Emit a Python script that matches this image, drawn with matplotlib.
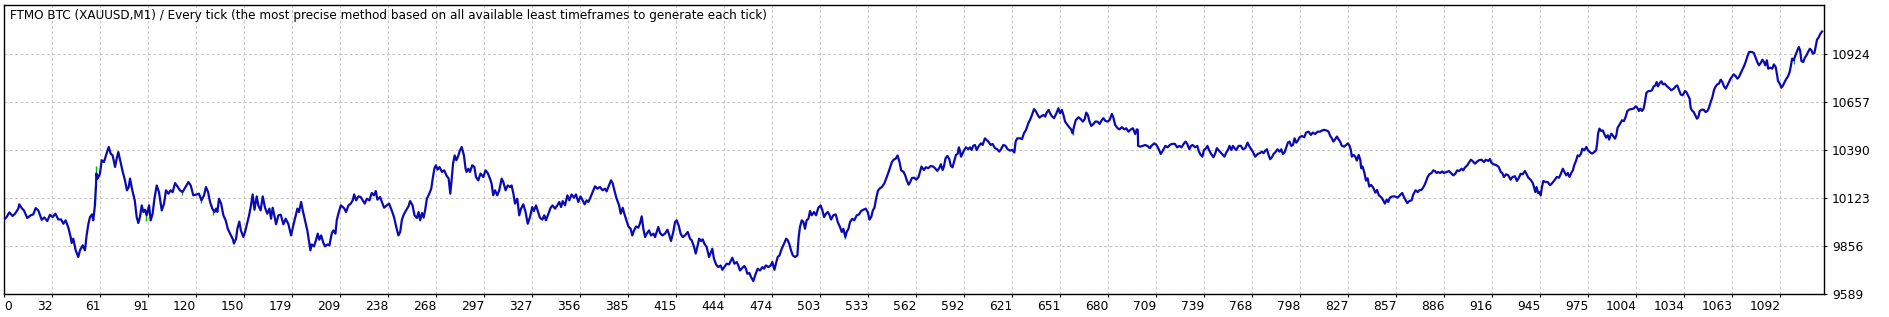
import matplotlib
matplotlib.use("Agg")
import matplotlib.pyplot as plt

TITLE = ("FTMO BTC (XAUUSD,M1) / Every tick (the most precise method based on "
         "all available least timeframes to generate each tick)")

# balance curve: trade number -> balance
TRADES = [
    0, 1.4, 3.1, 5.1, 6.6, 8.6, 9.2, 10.7, 12.1, 14.1, 16.2, 17.8, 19.3, 20.9, 23.0, 24.6, 26.4, 28.1,
    29.7, 31.4, 33.2, 34.9, 36.3, 37.7, 39.4, 40.8, 41.4, 42.4, 43.9, 45.5, 46.5, 48.2, 49.6, 50.6,
    51.7, 52.7, 53.9, 54.7, 55.6, 56.4, 56.6, 57.4, 58.8, 59.9, 61.3, 62.5, 64.2, 65.4, 66.6, 68.1,
    69.1, 70.1, 71.2, 72.6, 74.2, 75.4, 76.5, 77.3, 78.7, 80.2, 81.4, 82.4, 83.4, 84.5, 85.5, 86.5,
    87.5, 89.0, 90.0, 91.2, 92.3, 93.7, 95.1, 96.8, 98.2, 99.4, 100.9, 102.3, 103.5, 105.0, 106.4,
    108.0, 109.5, 111.1, 113.2, 114.6, 116.2, 118.3, 119.7, 121.2, 122.8, 124.0, 125.3, 126.5, 127.9,
    129.2, 130.2, 131.0, 132.0, 133.3, 134.7, 136.1, 137.4,
    138.8, 140.4, 141.2, 142.5, 143.3, 144.5, 145.5, 147.0, 148.0, 149.0, 150.5, 151.5, 152.7, 153.8,
    155.2, 156.2, 157.6, 158.9, 160.3, 161.7, 163.0, 164.0, 165.0, 165.9, 167.1, 168.5, 170.0, 171.6,
    173.0, 174.7, 176.3, 177.7, 179.2, 180.2, 181.2, 182.5, 183.5, 184.9, 186.3, 187.4, 188.2, 189.0,
    190.4, 191.7, 192.7, 193.7, 194.8, 196.2, 197.2, 198.7, 199.9, 201.3, 202.3, 203.6, 204.4, 205.4,
    206.9, 208.1, 209.1, 210.1, 211.6, 213.0, 214.2, 215.1, 216.3, 217.7, 219.1, 220.4, 221.6, 222.9,
    224.5, 225.9, 227.3, 228.4, 229.4, 231.0, 232.5, 233.5, 235.1, 236.6, 238.2, 239.6, 240.9, 242.3,
    243.4, 244.4, 245.4, 246.8, 248.5, 249.5, 251.0, 252.2, 253.7, 254.7, 255.7, 256.8, 257.8, 258.8,
    259.8, 261.3, 262.5, 263.3, 264.4, 265.4, 266.4, 267.6, 269.1, 270.5, 271.8, 273.2, 274.2, 275.0,
    275.9, 276.9, 277.9, 279.0, 280.0,
    281.2, 282.6, 283.6, 284.2, 285.3, 286.3, 287.7, 289.0, 290.0, 291.4, 292.8, 294.5, 295.9, 297.2,
    298.6, 299.6, 300.6, 301.7, 303.1, 304.3, 305.8, 306.8, 308.2, 309.5, 310.9, 311.9, 313.0, 314.0,
    315.4, 316.6, 317.7, 319.1, 320.5, 321.8, 323.2, 324.6, 325.6, 326.9, 327.9, 329.3, 330.8, 332.0,
    333.0, 334.5, 335.9, 337.1, 338.6, 340.0, 341.2, 342.3, 343.3, 344.7, 346.2, 347.4, 348.8, 350.2,
    351.5, 352.9, 354.3, 355.6, 356.8, 358.0, 359.1, 360.5, 361.7, 363.2, 364.6, 366.2, 367.9, 369.3,
    370.3, 371.8, 373.0, 374.0, 375.1, 376.5, 378.0, 379.0, 380.2, 381.2, 382.2, 383.7, 385.1, 386.1,
    387.2, 388.4, 389.8, 390.9, 391.9, 392.9, 394.0, 395.0, 396.4, 397.6, 399.1, 400.1, 401.1, 402.1,
    403.2, 404.6, 406.2, 407.7, 408.9, 409.9, 411.3, 412.4, 413.4, 414.6, 415.8, 417.1, 418.5, 420.2,
    421.6,
    422.6, 424.0, 425.1, 426.1, 427.2, 428.4, 429.4, 430.4, 431.8, 433.3, 434.5, 435.3, 436.3, 437.6,
    439.0, 440.4, 441.5, 442.7, 444.1, 445.6, 446.6, 447.6, 448.9, 450.3, 451.3, 452.3, 453.8, 455.0,
    456.0, 456.8, 458.1, 459.1, 460.5, 462.0, 463.2, 464.6, 466.1, 467.1, 468.3, 469.8, 471.2, 472.2,
    473.5, 474.5, 475.5, 476.6, 478.0, 479.4, 480.7, 481.7, 482.7, 483.7, 484.8, 486.2, 487.6, 488.4,
    489.2, 490.3, 491.3, 492.3, 493.3, 494.4, 495.4, 496.4, 497.8, 499.1, 500.5, 501.9, 503.0, 504.0,
    505.2, 506.3, 507.3, 508.3, 509.7, 511.2, 512.4, 513.8, 514.9, 515.9, 517.1, 517.9, 519.0, 520.0,
    521.4, 522.6, 524.1, 525.5, 526.8, 528.2, 529.6, 530.9, 531.9, 533.0, 534.0, 535.0, 536.0, 537.1,
    538.1, 539.5, 541.0, 542.2, 543.7, 544.7, 545.7, 546.8, 548.1, 549.2, 550.4, 551.4, 552.9, 553.9,
    554.9, 556.0, 557.0, 558.0, 559.5, 560.7, 562.1,
    563.9, 565.4, 566.6, 568.1, 569.5, 571.1, 572.2, 573.6, 574.8, 575.8, 576.9, 577.7, 578.7, 579.9,
    581.0, 582.0, 583.0, 584.1, 585.1, 586.1, 586.9, 587.5, 588.2, 589.2, 590.2, 591.2, 592.7, 593.7,
    594.7, 595.7, 596.8, 597.8, 599.2, 600.5, 601.5, 602.9, 603.9, 605.0, 606.4, 607.6, 609.1, 610.5,
    611.7, 612.8, 614.2, 615.6, 616.9, 618.3, 619.7, 621.0, 621.8, 622.8, 624.5, 625.7, 626.9, 628.2,
    629.6, 630.6, 631.6, 633.1, 634.3, 635.4, 636.4, 637.8, 638.9, 639.9, 640.9, 642.1, 643.0, 644.0,
    645.4, 646.7, 648.1, 649.1, 650.2, 651.2, 652.2, 653.7, 654.9, 655.9, 656.8, 657.8, 658.8, 660.5,
    661.9, 663.1, 664.2, 665.2, 666.2, 667.2, 668.3, 669.7, 670.7, 672.1, 673.4, 674.8, 675.8, 676.9,
    678.3, 679.6, 681.0, 682.0, 683.0, 684.5, 685.7, 687.1, 688.6, 689.8, 691.2, 692.7, 693.9, 695.3,
    696.3, 696.9, 697.1, 698.3, 700.0, 701.4, 702.8,
    704.3, 705.3, 707.0, 708.4, 709.8, 711.0, 712.5, 713.9, 715.2, 716.6, 718.0, 719.7, 721.1, 722.4,
    723.8, 725.3, 726.3, 727.3, 728.6, 729.6, 730.6, 732.1, 733.5, 734.5, 735.6, 736.6, 737.6, 738.9,
    739.7, 740.7, 742.0, 743.4, 744.4, 745.5, 746.5, 747.9, 749.2, 750.2, 751.3, 752.3, 753.3, 754.4,
    755.4, 756.4, 757.4, 758.9, 760.3, 761.5, 763.0, 764.4, 765.6, 766.6, 767.6, 769.1, 770.6, 771.8,
    773.2, 774.2, 775.3, 776.3, 777.3, 778.3, 779.4, 780.4, 781.8, 782.8, 784.1, 785.1, 786.1, 787.1,
    788.2, 789.2, 790.2, 791.2, 792.3, 793.3, 794.3, 795.3, 796.4, 797.8, 799.2, 800.4, 801.9, 803.3,
    804.5, 806.0, 807.4, 809.0, 810.0, 811.5, 813.1, 814.2, 815.2, 816.2, 817.2, 818.3, 819.3, 820.3,
    821.3, 822.4, 823.8, 825.0, 826.1, 827.1, 827.9, 828.5, 829.6, 830.6, 831.6, 832.7, 833.7, 834.3,
    835.1, 836.2, 837.2, 838.2, 839.2, 840.3, 841.5, 843.0, 844.0, 845.0,
    846.8, 847.8, 848.8, 849.9, 850.9, 851.9, 853.3, 855.0, 856.4, 857.4, 858.5, 859.5, 860.5, 861.7,
    862.6, 863.8, 865.2, 866.3, 867.7, 869.0, 870.0, 871.4, 872.8, 874.0, 875.1, 876.1, 877.5, 878.6,
    879.6, 880.6, 881.6, 882.7, 884.1, 885.1, 886.8, 888.2, 889.4, 890.9, 892.1, 893.3, 894.5, 896.0,
    897.0, 898.0, 899.5, 900.7, 901.7, 902.7, 904.2, 905.2, 906.6, 908.3, 909.7, 910.9, 912.4, 913.4,
    914.4, 915.9, 917.5, 918.9, 920.0, 921.0, 922.0, 923.3, 924.7, 926.1, 927.3, 928.8, 930.0, 931.2,
    932.3, 933.5, 934.9, 936.0, 937.0, 938.4, 939.7, 940.5, 941.3, 942.1, 943.0, 943.8, 944.6, 945.4,
    946.2, 947.7, 948.9, 950.4, 951.8, 953.0, 954.5, 955.9, 957.0, 958.2, 959.2, 960.3, 961.3, 962.3,
    963.4, 964.4, 965.2, 966.3, 967.3, 968.3, 969.4, 970.2, 971.4, 972.7, 973.7, 974.7, 976.2, 977.6,
    978.7, 979.3, 979.9, 980.7, 981.8, 982.8, 983.8, 984.9, 985.9, 986.7,
    988.0, 989.0, 990.3, 991.1, 991.9, 993.2, 994.6, 995.8, 996.8, 997.9, 998.9, 1000.3, 1001.8,
    1003.0, 1004.0, 1005.0, 1005.9, 1006.9, 1007.9, 1008.7, 1009.6, 1010.8, 1012.0, 1013.0, 1014.1,
    1015.1, 1015.9, 1016.7, 1017.8, 1018.8, 1019.8, 1020.8, 1022.3, 1023.5, 1024.9, 1026.4, 1027.6,
    1028.6, 1029.7, 1030.7, 1031.7, 1032.5, 1033.3, 1034.2, 1035.2, 1036.2, 1036.8, 1037.6, 1038.7,
    1039.7, 1040.7, 1041.5, 1042.4, 1043.6, 1044.8, 1046.0, 1047.1, 1048.1, 1049.1, 1050.1, 1051.2,
    1052.2, 1053.2, 1054.2, 1055.3, 1056.3, 1057.3, 1058.4, 1059.4, 1060.4, 1061.4, 1062.4, 1063.3,
    1064.5, 1065.5, 1066.5, 1067.6, 1068.6, 1069.6, 1070.6, 1071.7, 1072.7, 1073.7, 1074.7, 1075.7,
    1076.8, 1077.8, 1078.8, 1079.9, 1080.9, 1081.9, 1082.7, 1083.7, 1084.5, 1085.8, 1087.0, 1088.0,
    1089.1, 1089.9, 1090.5, 1091.6, 1092.6, 1093.6, 1094.6, 1095.7, 1096.7, 1097.7, 1098.3, 1099.2,
    1100.2, 1101.2, 1102.3, 1103.3, 1104.1, 1104.9, 1106.0, 1107.0, 1108.0, 1109.0, 1110.1, 1111.1,
    1111.9, 1112.9, 1113.7, 1114.5, 1115.6, 1116.6, 1117.6,
]
BALANCE = [
    10002, 10015, 10041, 10021, 10034, 10062, 10086, 10065, 10052, 10010, 10025, 10030, 10065, 10052,
    10000, 10013, 9993, 10028, 10015, 10034, 10002, 10002, 9978, 9997, 9956, 9904, 9871, 9895, 9830,
    9793, 9830, 9858, 9830, 9913, 9978, 10015, 10030, 9997, 10071, 10191, 10257, 10229, 10257, 10331,
    10321, 10358, 10405, 10368, 10358, 10294, 10340, 10377, 10331, 10275, 10219, 10164, 10182, 10229,
    10164, 10108, 10015, 9982, 10015, 10080, 10043, 10056, 10025, 10080, 9997, 10034, 10117, 10191,
    10154, 10052, 10090, 10164, 10145, 10164, 10154, 10204, 10186, 10164, 10154, 10177, 10210, 10191,
    10136, 10141, 10145, 10108, 10136, 10182, 10154, 10099, 10062, 10043, 10062, 10043, 10117, 10090,
    10025, 9997, 9950,
    9923, 9895, 9868, 9895, 9950, 9990, 9940, 9904, 9932, 9969, 10025, 10071, 10141, 10056, 10130,
    10080, 10052, 10130, 10067, 10034, 10062, 10006, 10067, 10030, 9975, 10025, 10028, 9975, 10006,
    9975, 9913, 9969, 10025, 10062, 10043, 10099, 10052, 9997, 9941, 9876, 9830, 9863, 9852, 9889,
    9923, 9889, 9913, 9871, 9852, 9863, 9858, 9923, 9941, 9923, 9997, 10034, 10080, 10071, 10062,
    10043, 10080, 10090, 10108, 10141, 10108, 10130, 10127, 10108, 10090, 10117, 10108, 10149, 10136,
    10160, 10112, 10127, 10090, 10067, 10080, 10090, 10052, 10015, 9963, 9913, 9932, 9997, 10025,
    10049, 10075, 10104, 10080, 10025, 10010, 10043, 9997, 10038, 10012, 10056, 10117, 10145, 10173,
    10223, 10284, 10303, 10279, 10293, 10266, 10275, 10247, 10229, 10145, 10219, 10312, 10358, 10331,
    10353, 10382,
    10405, 10358, 10284, 10266, 10284, 10266, 10303, 10294, 10238, 10219, 10257, 10238, 10275, 10260,
    10229, 10201, 10136, 10164, 10136, 10164, 10229, 10210, 10164, 10191, 10182, 10191, 10145, 10090,
    10117, 10025, 10062, 10086, 10043, 9978, 10015, 10071, 10049, 10080, 10052, 10012, 10001, 10025,
    9997, 10034, 10067, 10080, 10062, 10080, 10099, 10071, 10104, 10080, 10136, 10108, 10141, 10123,
    10141, 10099, 10130, 10108, 10086, 10108, 10099, 10127, 10154, 10186, 10173, 10182, 10164, 10173,
    10158, 10191, 10219, 10204, 10164, 10117, 10080, 10034, 10067, 10034, 10006, 9963, 9950, 9913,
    9941, 9963, 9956, 9982, 10019, 9950, 9904, 9923, 9941, 9913, 9923, 9904, 9932, 9960,
    9926, 9913, 9923, 9945, 9913, 9882, 9932, 9987, 9997, 9969, 9923, 9904, 9913, 9932,
    9895,
    9886, 9852, 9812, 9849, 9895, 9882, 9891, 9867, 9849, 9793, 9821, 9839, 9784, 9752,
    9737, 9746, 9722, 9737, 9756, 9752, 9771, 9789, 9756, 9765, 9746, 9718, 9733, 9743,
    9728, 9700, 9704, 9682, 9659, 9700, 9728, 9718, 9737, 9728, 9746, 9737, 9746, 9765,
    9722, 9759, 9793, 9802, 9839, 9867, 9895, 9886, 9863, 9830, 9802, 9793, 9802, 9904,
    9960, 9997, 9988, 9950, 9997, 10006, 10049, 10025, 10043, 10025, 10067, 10080, 10052, 10015,
    10034, 10043, 10028, 10001, 10025, 10030, 9988, 9960, 9932, 9950, 9904, 9932, 9950, 9988,
    10006, 9997, 10025, 10030, 10049, 10056, 10062, 10043, 10001, 10015, 10052, 10067, 10117, 10160,
    10173, 10182, 10201, 10229, 10266, 10294, 10321, 10334, 10340, 10358, 10321, 10275, 10266, 10247,
    10219, 10195, 10210, 10232, 10234, 10223, 10238,
    10296, 10277, 10292, 10287, 10299, 10296, 10287, 10272, 10287, 10309, 10277, 10296, 10342, 10355,
    10337, 10299, 10292, 10329, 10361, 10366, 10403, 10385, 10351, 10370, 10388, 10403, 10392, 10403,
    10388, 10411, 10416, 10388, 10411, 10425, 10416, 10453, 10444, 10435, 10416, 10422, 10398, 10392,
    10379, 10392, 10416, 10411, 10392, 10385, 10388, 10374, 10435, 10453, 10453, 10448, 10481, 10500,
    10537, 10555, 10577, 10615, 10602, 10583, 10568, 10577, 10583, 10574, 10596, 10611, 10592, 10577,
    10565, 10589, 10620, 10592, 10611, 10583, 10546, 10527, 10513, 10503, 10481, 10522, 10555, 10570,
    10559, 10546, 10559, 10596, 10583, 10546, 10522, 10533, 10546, 10546, 10533, 10555, 10565, 10550,
    10546, 10555, 10589, 10565, 10527, 10509, 10503, 10515, 10503, 10509, 10490, 10503, 10509, 10477,
    10503, 10500, 10411, 10407, 10411, 10416, 10411,
    10398, 10411, 10425, 10416, 10392, 10366, 10388, 10411, 10403, 10416, 10422, 10422, 10403, 10411,
    10403, 10425, 10435, 10422, 10392, 10411, 10416, 10403, 10411, 10379, 10361, 10351, 10388, 10398,
    10411, 10388, 10366, 10348, 10366, 10398, 10388, 10374, 10361, 10351, 10374, 10388, 10411, 10388,
    10411, 10398, 10388, 10411, 10411, 10392, 10398, 10429, 10407, 10392, 10379, 10351, 10366, 10370,
    10379, 10370, 10385, 10392, 10361, 10337, 10348, 10366, 10379, 10392, 10379, 10392, 10366, 10374,
    10403, 10429, 10435, 10411, 10416, 10453, 10429, 10440, 10459, 10466, 10459, 10485, 10490, 10472,
    10485, 10477, 10490, 10490, 10496, 10500, 10496, 10490, 10466, 10453, 10435, 10448, 10463, 10448,
    10435, 10411, 10407, 10416, 10425, 10411, 10388, 10351, 10361, 10351, 10329, 10361, 10333, 10286,
    10296, 10262, 10218, 10231, 10185, 10194, 10181, 10151, 10166, 10138,
    10123, 10108, 10090, 10112, 10099, 10123, 10130, 10130, 10123, 10130, 10141, 10149, 10127, 10108,
    10093, 10104, 10108, 10141, 10164, 10154, 10164, 10167, 10186, 10210, 10238, 10253, 10260, 10275,
    10271, 10260, 10266, 10260, 10269, 10260, 10266, 10271, 10260, 10247, 10256, 10275, 10271, 10284,
    10275, 10290, 10303, 10321, 10334, 10327, 10312, 10321, 10331, 10334, 10321, 10334, 10327, 10338,
    10316, 10308, 10303, 10293, 10266, 10260, 10238, 10253, 10247, 10223, 10238, 10242, 10216, 10234,
    10256, 10253, 10271, 10253, 10234, 10223, 10205, 10182, 10154, 10182, 10149, 10154, 10136, 10182,
    10216, 10210, 10210, 10192, 10205, 10219, 10238, 10234, 10256, 10284, 10266, 10247, 10260, 10238,
    10260, 10275, 10303, 10327, 10358, 10353, 10368, 10395, 10386, 10405, 10386, 10377, 10368, 10377,
    10386, 10423, 10479, 10507, 10494, 10497, 10475, 10457, 10470, 10446,
    10479, 10469, 10451, 10469, 10512, 10531, 10553, 10549, 10571, 10605, 10612, 10616, 10618,
    10631, 10623, 10605, 10618, 10605, 10618, 10655, 10705, 10716, 10716, 10720, 10742,
    10747, 10766, 10742, 10760, 10770, 10753, 10757, 10742, 10733, 10720, 10729, 10742,
    10747, 10720, 10697, 10692, 10701, 10716, 10710, 10692, 10673, 10623, 10608, 10599,
    10581, 10562, 10571, 10605, 10612, 10612, 10599, 10605, 10623, 10655, 10679, 10723,
    10742, 10753, 10757, 10779, 10766, 10742, 10729, 10747, 10766, 10785, 10798, 10809,
    10798, 10785, 10794, 10816, 10835, 10853, 10877, 10909, 10933, 10933, 10933, 10927,
    10901, 10877, 10859, 10872, 10890, 10877, 10859, 10887, 10840, 10846, 10840, 10864,
    10849, 10809, 10772, 10757, 10734, 10747, 10766, 10785, 10798, 10822, 10849, 10896,
    10887, 10914, 10938, 10961, 10942, 10883, 10877, 10901, 10914, 10933, 10951, 10942,
    10924, 10927, 10964, 11001, 11016, 11035, 11047,
]

# short green equity excursions visible under the balance line
EQ_SPIKE_X = [55.5, 56.2, 87.2, 109.5, 121.0, 128.5, 517.0, 656.8, 833.3, 1100.4]
EQ_SPIKE_LO = [10080, 10240, 9993, 10136, 10093, 10025, 9893, 10472, 10300, 10868]
EQ_SPIKE_HI = [10190, 10297, 10040, 10160, 10112, 10050, 9920, 10500, 10333, 10895]

X_LABELS = ["0", "32", "61", "91", "120", "150", "179", "209", "238", "268", "297", "327",
            "356", "385", "415", "444", "474", "503", "533", "562", "592", "621", "651", "680",
            "709", "739", "768", "798", "827", "857", "886", "916", "945", "975", "1004",
            "1034", "1063", "1092"]
X_TICK_STEP = 29.51
X_MAX = 1118.8
Y_TICKS = [9589, 9856, 10123, 10390, 10657, 10924]
Y_TOP = 11196

W, H = 1889, 317
fig = plt.figure(figsize=(W / 100, H / 100), dpi=100)
ax = fig.add_axes([4.3 / W, 23.3 / H, 1819.7 / W, 289.0 / H])

ax.vlines(EQ_SPIKE_X, EQ_SPIKE_LO, EQ_SPIKE_HI, color="#00b400", lw=1.0, zorder=2)
ax.plot(TRADES, BALANCE, color="#0a0ab4", lw=1.6, zorder=3)

ax.set_xlim(0, X_MAX)
ax.set_ylim(Y_TICKS[0], Y_TOP)

ax.set_xticks([i * X_TICK_STEP for i in range(len(X_LABELS))])
ax.set_xticklabels(X_LABELS)
for i, lab in enumerate(ax.get_xticklabels()):
    lab.set_horizontalalignment("left" if i == 0 else "right")

ax.yaxis.tick_right()
ax.set_yticks(Y_TICKS)
ax.tick_params(direction="out", length=2.2, width=0.8, labelsize=8.8, colors="black")
ax.tick_params(axis="x", pad=2.0)
ax.tick_params(axis="y", pad=3.4)

ax.grid(True, color="#c8c8c8", ls=(0, (2.9, 2.2)), lw=0.75, zorder=0)
for side, sp in ax.spines.items():
    sp.set_color("black")
    sp.set_linewidth(1.0)

fig.text(10 / W, 1 - 16 / H, TITLE, ha="left", va="center", fontsize=8.65, color="black")

fig.savefig("out.png", dpi=100)
